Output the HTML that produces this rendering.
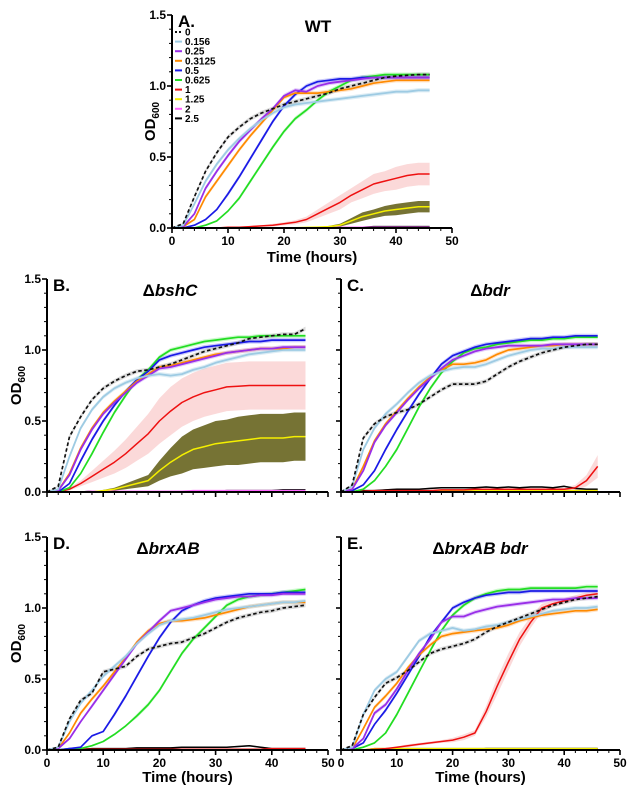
<!DOCTYPE html>
<html><head><meta charset="utf-8">
<style>
html,body{margin:0;padding:0;background:#fff;}
svg{display:block;font-family:"Liberation Sans",Arial,sans-serif;font-weight:bold;}
</style></head>
<body>
<svg id="fig" width="628" height="793" viewBox="0 0 628 793" xmlns="http://www.w3.org/2000/svg"></svg>
<script>
// ---------- data ----------
const times = [0,2,4,6,8,10,12,14,16,18,20,22,24,26,28,30,32,34,36,38,40,42,44,46];
const concentrations = ["0","0.156","0.25","0.3125","0.5","0.625","1","1.25","2","2.5"];

// Panel A (WT)
const wt0 = [0,0.03,0.22,0.40,0.53,0.64,0.71,0.77,0.81,0.84,0.87,0.89,0.91,0.93,0.95,0.98,1.0,1.02,1.04,1.06,1.07,1.075,1.08,1.08];
const wt0156 = [0,0.02,0.17,0.33,0.45,0.55,0.63,0.70,0.76,0.81,0.85,0.87,0.88,0.89,0.90,0.91,0.92,0.93,0.94,0.95,0.96,0.96,0.97,0.97];
const wt025 = [0,0.01,0.10,0.28,0.40,0.51,0.61,0.69,0.77,0.84,0.93,0.97,0.96,1.0,1.02,1.03,1.04,1.05,1.06,1.06,1.06,1.06,1.06,1.06];
const wt03125 = [0,0.01,0.06,0.22,0.33,0.44,0.55,0.65,0.74,0.83,0.92,0.95,0.95,0.95,0.96,0.97,0.98,1.0,1.02,1.03,1.04,1.04,1.04,1.04];
const wt05 = [0,0,0.02,0.06,0.13,0.24,0.36,0.49,0.62,0.75,0.86,0.94,1.0,1.03,1.04,1.05,1.05,1.06,1.06,1.06,1.06,1.06,1.06,1.06];
const wt0625 = [0,0,0,0.02,0.05,0.12,0.21,0.33,0.45,0.57,0.68,0.77,0.83,0.90,0.96,1.0,1.04,1.06,1.07,1.08,1.08,1.08,1.08,1.08];
const wt1 = [0,0,0,0,0,0.005,0.005,0.01,0.015,0.02,0.03,0.04,0.06,0.10,0.14,0.18,0.23,0.27,0.31,0.33,0.35,0.37,0.38,0.38];
const wt1sd = [0,0,0,0,0,0,0,0,0.005,0.01,0.01,0.015,0.02,0.03,0.04,0.05,0.05,0.06,0.07,0.07,0.08,0.08,0.08,0.08];
const wt125 = [0,0,0,0,0,0,0,0,0,0,0,0.002,0.004,0.006,0.01,0.02,0.05,0.08,0.10,0.12,0.13,0.14,0.15,0.15];
const wt125sd = [0,0,0,0,0,0,0,0,0,0,0,0,0,0,0.005,0.01,0.02,0.03,0.03,0.035,0.04,0.04,0.04,0.04];
const wt2 = [0,0,0,0,0,0,0,0,0,0,0,0,0,0,0,0.005,0.005,0.005,0.005,0.005,0.005,0.005,0.005,0.005];
const wt25 = [0,0,0,0,0,0,0,0,0,0,0,0,0,0,0,0,0.005,0.005,0.01,0.01,0.01,0.01,0.01,0.01];

// Panel B (bshC)
const bs0 = [0,0.04,0.39,0.53,0.65,0.73,0.78,0.82,0.85,0.86,0.88,0.90,0.93,0.96,0.99,1.01,1.03,1.05,1.08,1.09,1.10,1.11,1.11,1.15];
const bs0156 = [0,0.02,0.25,0.45,0.58,0.67,0.73,0.77,0.80,0.82,0.83,0.82,0.83,0.86,0.88,0.91,0.93,0.95,0.97,0.98,0.99,1.0,1.0,1.0];
const bs025 = [0,0.01,0.12,0.30,0.44,0.55,0.63,0.70,0.77,0.82,0.87,0.88,0.90,0.92,0.94,0.96,0.98,0.99,1.0,1.01,1.01,1.02,1.02,1.02];
const bs03125 = [0,0.01,0.13,0.31,0.45,0.56,0.64,0.71,0.78,0.83,0.88,0.89,0.91,0.93,0.95,0.97,0.98,0.99,1.0,1.01,1.01,1.01,1.02,1.02];
const bs05 = [0,0,0.06,0.22,0.37,0.50,0.61,0.71,0.79,0.85,0.93,0.96,0.98,1.0,1.02,1.03,1.04,1.05,1.06,1.06,1.07,1.07,1.07,1.07];
const bs0625 = [0,0,0.03,0.13,0.27,0.42,0.56,0.68,0.79,0.86,0.95,1.0,1.02,1.04,1.06,1.07,1.08,1.09,1.09,1.10,1.10,1.10,1.10,1.10];
const bs1 = [0,0,0.02,0.06,0.11,0.16,0.21,0.27,0.34,0.41,0.50,0.57,0.63,0.67,0.70,0.72,0.74,0.745,0.75,0.75,0.75,0.75,0.75,0.75];
const bs1sd = [0,0,0.01,0.02,0.04,0.06,0.08,0.10,0.12,0.14,0.16,0.17,0.17,0.17,0.17,0.17,0.17,0.17,0.17,0.17,0.17,0.17,0.17,0.17];
const bs125 = [0,0,0,0,0,0.01,0.02,0.04,0.06,0.08,0.15,0.21,0.26,0.30,0.32,0.34,0.35,0.36,0.37,0.38,0.38,0.38,0.39,0.39];
const bs125sd = [0,0,0,0,0,0.005,0.01,0.02,0.03,0.04,0.07,0.10,0.13,0.14,0.15,0.16,0.16,0.17,0.17,0.17,0.17,0.17,0.17,0.17];
const bs2 = [0,0,0,0,0.005,0.005,0.005,0.005,0.005,0.005,0.005,0.005,0.005,0.01,0.01,0.01,0.01,0.01,0.01,0.01,0.01,0.01,0.01,0.01];
const bs25 = [0,0,0,0,0.005,0.005,0.005,0.005,0.005,0.005,0.005,0.005,0.005,0.005,0.005,0.005,0.01,0.01,0.01,0.01,0.01,0.015,0.015,0.015];

// Panel C (bdr)
const bd0 = [0,0.05,0.38,0.48,0.53,0.56,0.58,0.62,0.67,0.72,0.76,0.76,0.76,0.78,0.83,0.88,0.92,0.95,0.98,1.0,1.02,1.03,1.04,1.04];
const bd0156 = [0,0.04,0.30,0.45,0.55,0.62,0.70,0.77,0.82,0.85,0.87,0.88,0.88,0.90,0.93,0.96,0.98,1.0,1.01,1.01,1.02,1.02,1.02,1.02];
const bd025 = [0,0.02,0.15,0.35,0.47,0.56,0.65,0.73,0.80,0.87,0.93,0.96,0.99,1.01,1.02,1.03,1.03,1.03,1.03,1.04,1.04,1.04,1.04,1.04];
const bd03125 = [0,0.02,0.18,0.36,0.48,0.57,0.66,0.74,0.81,0.86,0.90,0.90,0.91,0.93,0.97,1.0,1.01,1.02,1.03,1.03,1.04,1.04,1.04,1.04];
const bd05 = [0,0.01,0.05,0.15,0.30,0.44,0.57,0.69,0.80,0.90,0.96,0.99,1.02,1.04,1.05,1.06,1.07,1.08,1.08,1.09,1.09,1.10,1.10,1.10];
const bd0625 = [0,0,0.02,0.08,0.18,0.30,0.45,0.60,0.73,0.84,0.92,0.98,1.01,1.02,1.04,1.05,1.06,1.07,1.07,1.08,1.08,1.09,1.09,1.09];
const bd1 = [0,0,0.005,0.01,0.01,0.01,0.01,0.01,0.01,0.015,0.015,0.015,0.02,0.02,0.02,0.02,0.02,0.02,0.02,0.02,0.02,0.03,0.08,0.18];
const bd1sd = [0,0,0,0,0,0,0,0,0,0,0,0,0,0,0,0,0,0,0,0.005,0.01,0.02,0.04,0.08];
const bd125 = [0,0,0,0,0.005,0.005,0.005,0.005,0.005,0.005,0.005,0.005,0.01,0.01,0.01,0.01,0.01,0.01,0.01,0.01,0.01,0.01,0.01,0.01];
const bd2 = [0,0,0,0,0.005,0.005,0.005,0.005,0.005,0.005,0.005,0.005,0.005,0.005,0.005,0.005,0.005,0.005,0.005,0.005,0.005,0.005,0.005,0.005];
const bd25 = [0,0,0.01,0.01,0.015,0.02,0.02,0.02,0.025,0.03,0.03,0.03,0.03,0.035,0.03,0.035,0.03,0.035,0.035,0.03,0.04,0.025,0.02,0.02];

// Panel D (brxAB)
const bx0 = [0,0.02,0.22,0.35,0.40,0.55,0.57,0.59,0.66,0.71,0.73,0.75,0.76,0.79,0.82,0.86,0.90,0.93,0.95,0.97,0.98,1.0,1.01,1.02];
const bx0156 = [0,0.02,0.20,0.33,0.42,0.52,0.59,0.66,0.75,0.82,0.88,0.91,0.92,0.93,0.95,0.97,0.99,1.0,1.01,1.02,1.03,1.04,1.04,1.05];
const bx025 = [0,0.01,0.08,0.20,0.31,0.42,0.53,0.64,0.75,0.83,0.91,0.98,1.0,1.02,1.04,1.06,1.07,1.08,1.08,1.09,1.09,1.10,1.10,1.10];
const bx03125 = [0,0.01,0.12,0.26,0.36,0.45,0.55,0.65,0.76,0.84,0.89,0.91,0.91,0.92,0.93,0.95,0.97,0.99,1.01,1.02,1.03,1.04,1.04,1.04];
const bx05 = [0,0,0.01,0.02,0.10,0.13,0.25,0.38,0.52,0.66,0.79,0.90,0.98,1.02,1.05,1.07,1.08,1.09,1.10,1.10,1.10,1.11,1.11,1.11];
const bx0625 = [0,0,0.01,0.01,0.03,0.06,0.11,0.17,0.24,0.32,0.42,0.55,0.68,0.78,0.86,0.94,1.02,1.06,1.08,1.09,1.10,1.11,1.12,1.13];
const bx1 = [0,0,0,0.005,0.005,0.005,0.005,0.005,0.005,0.005,0.005,0.005,0.005,0.005,0.005,0.005,0.005,0.005,0.005,0.005,0.01,0.01,0.01,0.01];
const bx125 = [0,0,0,0.005,0.005,0.005,0.005,0.005,0.005,0.005,0.005,0.005,0.005,0.005,0.005,0.005,0.005,0.005,0.005,0.005,0.005,0.005,0.005,0.005];
const bx2 = [0,0,0,0.005,0.005,0.005,0.005,0.005,0.005,0.005,0.005,0.005,0.005,0.005,0.005,0.005,0.005,0.005,0.005,0.005,0.005,0.005,0.005,0.005];
const bx25 = [0,0,0,0.005,0.01,0.01,0.01,0.01,0.015,0.015,0.015,0.015,0.02,0.02,0.02,0.02,0.02,0.025,0.03,0.02,0.01,0.01,0.01,0.01];

// Panel E (brxAB bdr)
const bb0 = [0,0.03,0.25,0.37,0.47,0.51,0.56,0.62,0.68,0.71,0.73,0.75,0.78,0.83,0.87,0.90,0.93,0.96,0.99,1.02,1.04,1.06,1.07,1.08];
const bb0156 = [0,0.02,0.25,0.42,0.50,0.55,0.66,0.77,0.82,0.84,0.86,0.84,0.85,0.87,0.88,0.90,0.92,0.94,0.96,0.98,0.99,1.0,1.0,1.01];
const bb025 = [0,0.01,0.08,0.26,0.32,0.43,0.56,0.68,0.78,0.90,0.94,0.94,0.97,0.99,1.01,1.02,1.03,1.04,1.05,1.06,1.06,1.07,1.07,1.07];
const bb03125 = [0,0.01,0.15,0.30,0.38,0.47,0.58,0.67,0.74,0.80,0.82,0.83,0.84,0.85,0.86,0.88,0.91,0.93,0.95,0.96,0.97,0.98,0.98,0.99];
const bb05 = [0,0.01,0.05,0.18,0.28,0.40,0.53,0.66,0.80,0.90,1.0,1.04,1.07,1.09,1.10,1.11,1.11,1.12,1.12,1.12,1.12,1.12,1.12,1.12];
const bb0625 = [0,0,0.02,0.05,0.12,0.25,0.40,0.55,0.70,0.84,0.95,1.02,1.07,1.10,1.12,1.13,1.13,1.14,1.14,1.14,1.14,1.14,1.15,1.15];
const bb1 = [0,0,0,0.005,0.01,0.02,0.03,0.04,0.05,0.06,0.07,0.09,0.12,0.27,0.45,0.62,0.78,0.90,1.0,1.03,1.05,1.07,1.09,1.10];
const bb1sd = [0,0,0,0,0,0.005,0.01,0.01,0.01,0.01,0.015,0.02,0.02,0.04,0.06,0.06,0.05,0.04,0.03,0.02,0.02,0.02,0.02,0.02];
const bb125 = [0,0,0,0.01,0.01,0.01,0.01,0.01,0.01,0.01,0.01,0.01,0.01,0.01,0.01,0.01,0.01,0.01,0.01,0.01,0.01,0.01,0.01,0.01];
const bb2 = [0,0,0,0.005,0.005,0.005,0.005,0.005,0.005,0.005,0.005,0.005,0.005,0.005,0.005,0.005,0.005,0.005,0.005,0.005,0.005,0.005,0.005,0.005];
const bb25 = [0,0,0,0.005,0.005,0.005,0.005,0.005,0.005,0.005,0.005,0.005,0.005,0.01,0.01,0.01,0.01,0.01,0.01,0.01,0.01,0.01,0.01,0.01];

const xTicks = [0,10,20,30,40,50];
const yTicks = [0,0.5,1.0,1.5];
const yTickLabels = ["0.0","0.5","1.0","1.5"];

// ---------- drawing ----------
const NS = "http://www.w3.org/2000/svg";
const svg = document.getElementById("fig");
function mk(tag, attrs, parent){ const e=document.createElementNS(NS,tag); for(const k in attrs) e.setAttribute(k,attrs[k]); (parent||svg).appendChild(e); return e; }

const styles = [
  {c:"#111",w:1.7,dash:"3.5,2.5",band:"#999"},
  {c:"#9ecbe3",w:1.8,band:"#9ecbe3"},
  {c:"#9a2ee8",w:1.8,band:"#b070f0"},
  {c:"#ff8a00",w:1.7,band:"#ffb060"},
  {c:"#1a1ae6",w:1.7,band:"#6a6af0"},
  {c:"#22dd22",w:1.7,band:"#70ee70"},
  {c:"#ee1111",w:1.5,band:"#f4a0a0"},
  {c:"#f5f000",w:1.5,band:"#5e5a10"},
  {c:"#ff66ff",w:1.5,band:"#ffaaff"},
  {c:"#000",w:1.5,band:"#333"}
];

const panels = [
  {id:"a", x0:172, x1:452, yb:228, yt:15, letter:"A.", title:"WT", italic:false, tx:318, lx:178, xlabels:true, ylabels:true, ylabx:150, tlabely:257,
   series:[wt0,wt0156,wt025,wt03125,wt05,wt0625,wt1,wt125,wt2,wt25], sds:{6:wt1sd,7:wt125sd}, legend:true},
  {id:"b", x0:47, x1:328, yb:492, yt:279, letter:"B.", title:"bshC", tx:170, lx:53, xlabels:false, ylabels:true, ylabx:16,
   series:[bs0,bs0156,bs025,bs03125,bs05,bs0625,bs1,bs125,bs2,bs25], sds:{6:bs1sd,7:bs125sd}},
  {id:"c", x0:341, x1:620, yb:492, yt:279, letter:"C.", title:"bdr", tx:490, lx:347, xlabels:false, ylabels:false, ylabx:null,
   series:[bd0,bd0156,bd025,bd03125,bd05,bd0625,bd1,bd125,bd2,bd25], sds:{6:bd1sd}},
  {id:"d", x0:47, x1:328, yb:750, yt:537, letter:"D.", title:"brxAB", tx:168, lx:53, xlabels:true, ylabels:true, ylabx:16, tlabely:777,
   series:[bx0,bx0156,bx025,bx03125,bx05,bx0625,bx1,bx125,bx2,bx25], sds:{}},
  {id:"e", x0:341, x1:620, yb:750, yt:537, letter:"E.", title:"brxAB bdr", tx:480, lx:347, xlabels:true, ylabels:false, ylabx:null, tlabely:777,
   series:[bb0,bb0156,bb025,bb03125,bb05,bb0625,bb1,bb125,bb2,bb25], sds:{6:bb1sd}}
];

panels.forEach(p=>{
  const g = mk("g",{});
  
  
  const X = t => p.x0 + (t/50)*(p.x1-p.x0);
  const Y = v => p.yb - (v/1.5)*(p.yb-p.yt);
  const order = [9,8,7,6,5,4,3,2,1,0];
  order.forEach(i=>{
    const vals = p.series[i];
    const sd = p.sds[i];
    const bandSd = sd ? sd : vals.map(v=>v>0.2?0.015:0.005);
    let up="", lo="";
    times.forEach((t,k)=>{ up += (k?"L":"M")+X(t).toFixed(1)+","+Y(vals[k]+bandSd[k]).toFixed(1); });
    for(let k=times.length-1;k>=0;k--){ lo += "L"+X(times[k]).toFixed(1)+","+Y(Math.max(0,vals[k]-bandSd[k])).toFixed(1); }
    const band = mk("path",{d:up+lo+"Z",fill:styles[i].band,"fill-opacity":i===7?0.85:(i===6?0.4:0.35),stroke:"none"},g);
    
    
  });
  order.forEach(i=>{
    const vals = p.series[i];
    let d="";
    times.forEach((t,k)=>{ d += (k?"L":"M")+X(t).toFixed(1)+","+Y(vals[k]).toFixed(1); });
    const attrs = {d:d,fill:"none",stroke:styles[i].c,"stroke-width":styles[i].w,"stroke-linejoin":"round"};
    if(styles[i].dash) attrs["stroke-dasharray"]=styles[i].dash;
    const line = mk("path",attrs,g);
    
    
  });
  const ax = mk("path",{d:`M${p.x0},${p.yt}L${p.x0},${p.yb}L${p.x1},${p.yb}`,fill:"none",stroke:"#000","stroke-width":2},g);
  
  
  for(let v=0; v<=1.5001; v+=0.1){
    const major = yTicks.some(t=>Math.abs(t-v)<1e-6);
    const tk = mk("line",{x1:p.x0-(major?5:3),x2:p.x0,y1:Y(v),y2:Y(v),stroke:"#000","stroke-width":major?1.6:1},g);
    
    
  }
  for(let t=0; t<=50; t+=2){
    const major = t%10===0;
    const tk = mk("line",{x1:X(t),x2:X(t),y1:p.yb,y2:p.yb+(major?5:3),stroke:"#000","stroke-width":major?1.6:1},g);
    
    
  }
  if(p.ylabels){
    yTicks.forEach((v,k)=>{
      const tl = mk("text",{x:p.x0-6,y:Y(v)+4,"text-anchor":"end","font-size":12},g);
      tl.textContent = yTickLabels[k];
      
      
    });
  }
  if(p.xlabels){
    xTicks.forEach(t=>{
      const tl = mk("text",{x:X(t),y:p.yb+17,"text-anchor":"middle","font-size":12},g);
      tl.textContent = String(t);
      
      
    });
    const xt = mk("text",{x:(p.x0+p.x1)/2,y:p.tlabely+5,"text-anchor":"middle","font-size":15},g);
    xt.textContent = "Time (hours)";
    
    
  }
  if(p.ylabx!==null){
    const cy = (p.yt+p.yb)/2;
    const yt = mk("text",{x:0,y:0,"text-anchor":"middle","font-size":15,transform:`translate(${p.ylabx+5},${cy}) rotate(-90)`},g);
    yt.innerHTML = 'OD<tspan font-size="10" dy="4">600</tspan>';
    
    
  }
  const lt = mk("text",{x:p.lx,y:p.yt+12,"font-size":17},g);
  lt.textContent = p.letter;
  
  
  const tt = mk("text",{x:p.tx,y:p.yt+17,"text-anchor":"middle","font-size":17,"font-style":p.italic===false?"normal":"italic"},g);
  if(p.italic===false) tt.textContent = p.title;
  else tt.innerHTML = '<tspan font-style="normal">Δ</tspan>'+p.title;
  
  

  if(p.legend){
    concentrations.forEach((c,i)=>{
      const y = 32 + i*9.6;
      const la = {x1:175,x2:182,y1:y,y2:y,stroke:styles[i].c,"stroke-width":2};
      if(styles[i].dash) la["stroke-dasharray"]="2,2";
      const ls = mk("line",la,g);
      
      
      const lx = mk("text",{x:185,y:y+3.5,"font-size":10},g);
      lx.textContent = c;
      
      
    });
  }
});
</script>
</body></html>
